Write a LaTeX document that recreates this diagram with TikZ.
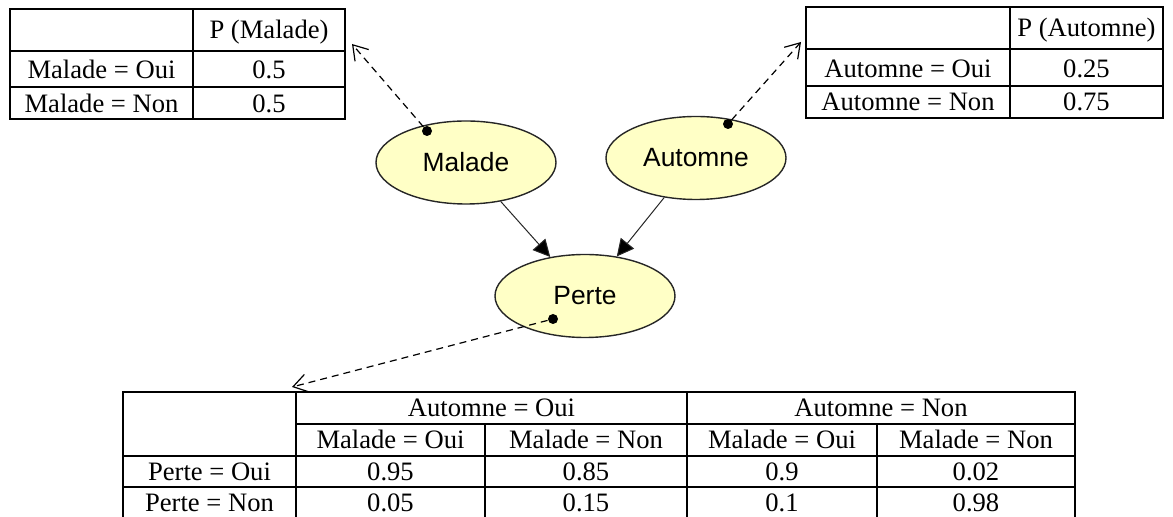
\documentclass[tikz,border=0pt]{standalone}
\usepackage{fontspec}
\setmainfont{Liberation Serif}
\newfontfamily\netfont{Liberation Sans}
\usetikzlibrary{arrows.meta,shapes.geometric}
\definecolor{nodefill}{RGB}{255,255,198}
\tikzset{>={Triangle[length=8.5pt,width=8.5pt]}}

\begin{document}
\begin{tikzpicture}[x=0.5pt,y=-0.5pt,semithick]
  \tikzstyle{var}=[ellipse,draw=black!85,fill=nodefill,line width=0.7pt,minimum width=90pt,minimum height=41.5pt,inner sep=0pt,font=\netfont\fontsize{13.2}{15}\selectfont]
  \tikzstyle{cell}=[anchor=base,inner sep=0pt,font=\fontsize{13.3}{15}\selectfont]
  \tikzstyle{grid}=[line width=0.9pt]
  \tikzstyle{pin}=[circle,fill=black,inner sep=0pt,minimum size=5pt]
  \tikzstyle{link}=[dash pattern=on 3.5pt off 2.5pt,line width=0.6pt,-{Straight Barb[length=7pt,width=9pt]}]

  \useasboundingbox (0,0) rectangle (1173,517);

  % table P(Malade)
  \draw[grid] (10,9) rectangle (345,119);
  \draw[grid] (193,9) -- (193,119) (10,51) -- (345,51) (10,87) -- (345,87);
  \node[cell] (m0)  at (269,38.5) {P (Malade)};
  \node[cell] (m1)  at (101.5,79) {Malade = Oui};
  \node[cell] (m1v) at (269,79)   {0.5};
  \node[cell] (m2)  at (101.5,112.5) {Malade = Non};
  \node[cell] (m2v) at (269,112.5)   {0.5};
  \coordinate (tM) at (352,44);

  % table P(Automne)
  \draw[grid] (806,7) rectangle (1163,118);
  \draw[grid] (1010,7) -- (1010,118) (806,49) -- (1163,49) (806,86) -- (1163,86);
  \node[cell] (a0)  at (1086.5,37) {P (Automne)};
  \node[cell] (a1)  at (908,77.5)  {Automne = Oui};
  \node[cell] (a1v) at (1086.5,77.5) {0.25};
  \node[cell] (a2)  at (908,111)   {Automne = Non};
  \node[cell] (a2v) at (1086.5,111)  {0.75};
  \coordinate (tA) at (801,42);

  % table P(Perte | Malade, Automne)
  \draw[grid] (123,530) -- (123,392) -- (1075,392) -- (1075,530);
  \draw[grid] (296,392) -- (296,530) (687,392) -- (687,530) (485,424) -- (485,530) (877,424) -- (877,530);
  \draw[grid] (296,424) -- (1075,424) (123,456) -- (1075,456) (123,487) -- (1075,487) (123,519) -- (1075,519);
  \node[cell] (h1) at (491.5,417) {Automne = Oui};
  \node[cell] (h2) at (881,417)   {Automne = Non};
  \node[cell] (h3) at (390.5,449) {Malade = Oui};
  \node[cell] (h4) at (586,449)   {Malade = Non};
  \node[cell] (h5) at (782,449)   {Malade = Oui};
  \node[cell] (h6) at (976,449)   {Malade = Non};
  \node[cell] (p1)  at (209.5,480.5) {Perte = Oui};
  \node[cell] (p11) at (390.5,480.5) {0.95};
  \node[cell] (p12) at (586,480.5)   {0.85};
  \node[cell] (p13) at (782,480.5)   {0.9};
  \node[cell] (p14) at (976,480.5)   {0.02};
  \node[cell] (p2)  at (209.5,512) {Perte = Non};
  \node[cell] (p21) at (390.5,512) {0.05};
  \node[cell] (p22) at (586,512)   {0.15};
  \node[cell] (p23) at (782,512)   {0.1};
  \node[cell] (p24) at (976,512)   {0.98};
  \coordinate (tP) at (292,387);

  % network
  \node[var] (M) at (466,162.5) {Malade};
  \node[var] (A) at (696,158)   {Automne};
  \node[var] (P) at (585,296)   {Perte};

  \path[->,line width=0.5pt,draw=black!85] (M) edge (P)
    (A) edge (P);

  \node[pin] (dM) at (427,131) {};
  \node[pin] (dA) at (728,124) {};
  \node[pin] (dP) at (553,319) {};

  \draw[link] (dM) -- (tM);
  \draw[link] (dA) -- (tA);
  \draw[link] (dP) -- (tP);
\end{tikzpicture}
\end{document}
